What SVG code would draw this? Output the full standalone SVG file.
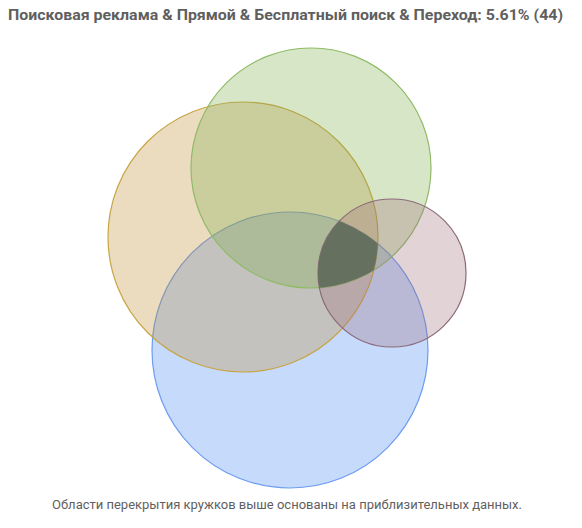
<svg xmlns="http://www.w3.org/2000/svg" width="582" height="528" viewBox="0 0 582 528">
<style>
.t{font-family:Roboto,"Liberation Sans",sans-serif;fill:#5f5f5f}
.c{stroke-width:1.2;fill-opacity:0.3}
</style>
<defs>
<clipPath id="cY"><circle cx="243" cy="237" r="135"/></clipPath>
<clipPath id="cG"><circle cx="311" cy="168" r="120"/></clipPath>
<clipPath id="cB"><circle cx="290" cy="350" r="138"/></clipPath>
</defs>
<rect width="582" height="528" fill="#fff"/>
<text class="t" x="8" y="20" font-size="14" font-weight="bold" textLength="555" lengthAdjust="spacingAndGlyphs">Поисковая реклама &amp; Прямой &amp; Бесплатный поиск &amp; Переход: 5.61% (44)</text>
<g id="blue"><circle class="c" cx="290" cy="350" r="138" fill="#4285f4" stroke="#6d9cf0"/></g>
<g id="yellow"><circle class="c" cx="243" cy="237" r="135" fill="#bc8a2d" stroke="#c8a545"/></g>
<g id="green"><circle class="c" cx="311" cy="168" r="120" fill="#7dac48" stroke="#8fbb66"/></g>
<g id="pink"><circle class="c" cx="392" cy="273" r="74" fill="#9e6c7a" stroke="#8b6a78"/></g>
<g id="intersection" clip-path="url(#cY)"><g clip-path="url(#cG)"><g clip-path="url(#cB)"><circle cx="392" cy="273" r="74" fill="#66705f"/></g></g></g>
<g id="connectors"/>
<text class="t" x="52" y="509" font-size="12" fill="#666" textLength="470" lengthAdjust="spacingAndGlyphs">Области перекрытия кружков выше основаны на приблизительных данных.</text>
</svg>
